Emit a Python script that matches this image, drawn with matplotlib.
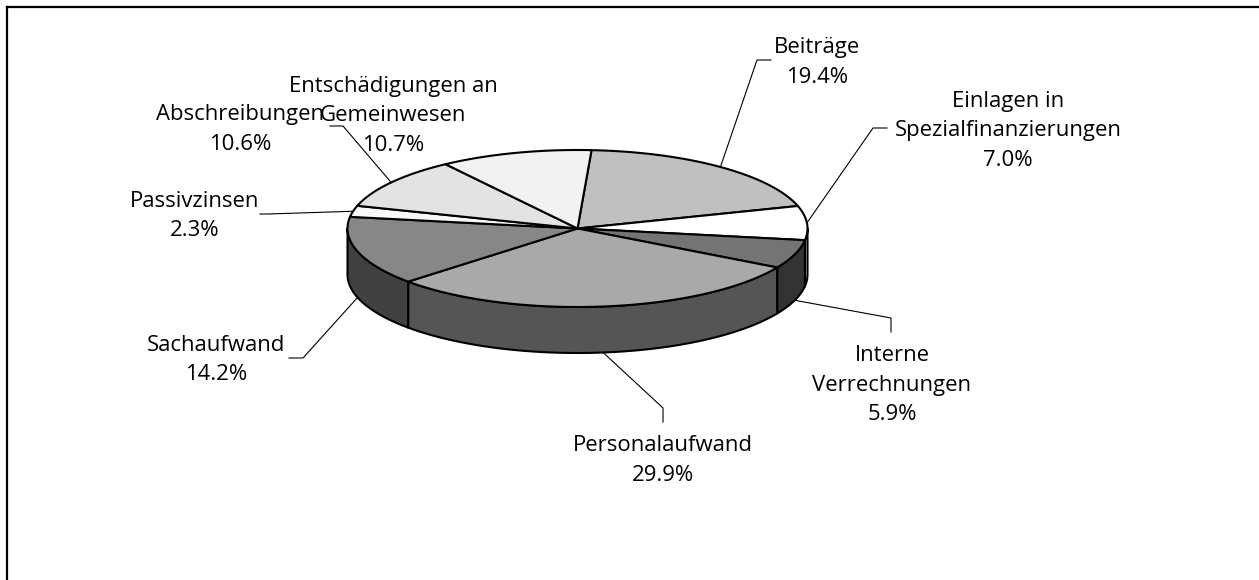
import numpy as np
import matplotlib
matplotlib.use("Agg")
import matplotlib.pyplot as plt
from matplotlib.patches import Polygon
from matplotlib.lines import Line2D

# ---- data ----
categories = ["Beiträge", "Einlagen in Spezialfinanzierungen", "Interne Verrechnungen",
              "Personalaufwand", "Sachaufwand", "Passivzinsen", "Abschreibungen",
              "Entschädigungen an Gemeinwesen"]
label_lines = [["Beiträge"], ["Einlagen in", "Spezialfinanzierungen"], ["Interne", "Verrechnungen"],
               ["Personalaufwand"], ["Sachaufwand"], ["Passivzinsen"], ["Abschreibungen"],
               ["Entschädigungen an", "Gemeinwesen"]]
values = [19.4, 7.0, 5.9, 29.9, 14.2, 2.3, 10.6, 10.7]

# ---- styles ----
top_colors = ["#c0c0c0", "#ffffff", "#747474", "#a9a9a9", "#878787", "#f8f8f8", "#e3e3e3", "#f2f2f2"]
side_colors = ["#606060", "#e0e0e0", "#333333", "#555555", "#414141", "#d0d0d0", "#b0b0b0", "#c0c0c0"]

# ---- layout (pixel coords, y down) ----
W, H = 1259, 580
cx, cy, a, b, depth = 577.5, 228.5, 230.0, 78.5, 46.0
start_angle = 86.5
label_x = [817, 1008, 892, 663, 216, 195, 240, 393]
label_base = [53.3, 106.7, 361, 451, 350.7, 206.7, 120, 91.7]
line_step = 29.7
# leader line elbow / end points (None = no leader)
leader = [((757, 60), (771, 60)), ((873, 128), (887, 128)), ((891, 318), (891, 332)),
          ((663, 408), (663, 422)), ((303, 358), (289, 358)), ((268, 214), (260, 214)),
          ((343, 126), (330, 126)), None]

FONT = "Open Sans"
FS = 15.9

fig = plt.figure(figsize=(W / 100, H / 100), dpi=100)
ax = fig.add_axes([0, 0, 1, 1])
ax.set_xlim(0, W)
ax.set_ylim(H, 0)
ax.axis("off")


def pt(theta, dz=0.0):
    t = np.radians(theta)
    return np.column_stack([cx + a * np.cos(t), cy - b * np.sin(t) + dz])


vals = np.array(values, dtype=float)
frac = vals / vals.sum()
bounds = start_angle - 360.0 * np.concatenate([[0], np.cumsum(frac)])

# side walls (front half: -180..0 degrees)
for i in range(len(vals)):
    t0, t1 = bounds[i], bounds[i + 1]
    for shift in (0, -360, 360):
        hi = min(t0 + shift, 0.0)
        lo = max(t1 + shift, -180.0)
        if hi > lo:
            ts = np.linspace(hi, lo, 80)
            poly = np.vstack([pt(ts), pt(ts[::-1], depth)])
            ax.add_patch(Polygon(poly, closed=True, facecolor=side_colors[i],
                                 edgecolor="black", linewidth=1.5, joinstyle="round"))

# top faces
for i in range(len(vals)):
    t0, t1 = bounds[i], bounds[i + 1]
    ts = np.linspace(t0, t1, 120)
    poly = np.vstack([[cx, cy], pt(ts)])
    ax.add_patch(Polygon(poly, closed=True, facecolor=top_colors[i],
                         edgecolor="black", linewidth=1.5, joinstyle="round"))

# labels + leader lines
for i in range(len(vals)):
    lines = label_lines[i] + [f"{values[i]:.1f}%"]
    for k, txt in enumerate(lines):
        ax.text(label_x[i], label_base[i] + k * line_step, txt, ha="center", va="baseline",
                fontsize=FS, family=FONT, color="black")
    if leader[i] is not None:
        mid = (bounds[i] + bounds[i + 1]) / 2.0
        dz = depth if np.sin(np.radians(mid)) < 0 else 0.0
        p0 = pt(np.array([mid]), dz)[0]
        (ex, ey), (fx, fy) = leader[i]
        ax.add_line(Line2D([p0[0], ex, fx], [p0[1], ey, fy], color="black", linewidth=0.8))

# frame
ax.add_line(Line2D([7, W + 5], [7, 7], color="black", linewidth=1.6, solid_capstyle="projecting"))
ax.add_line(Line2D([7, 7], [7, H + 5], color="black", linewidth=1.6, solid_capstyle="projecting"))

fig.savefig("out.png", dpi=100)
